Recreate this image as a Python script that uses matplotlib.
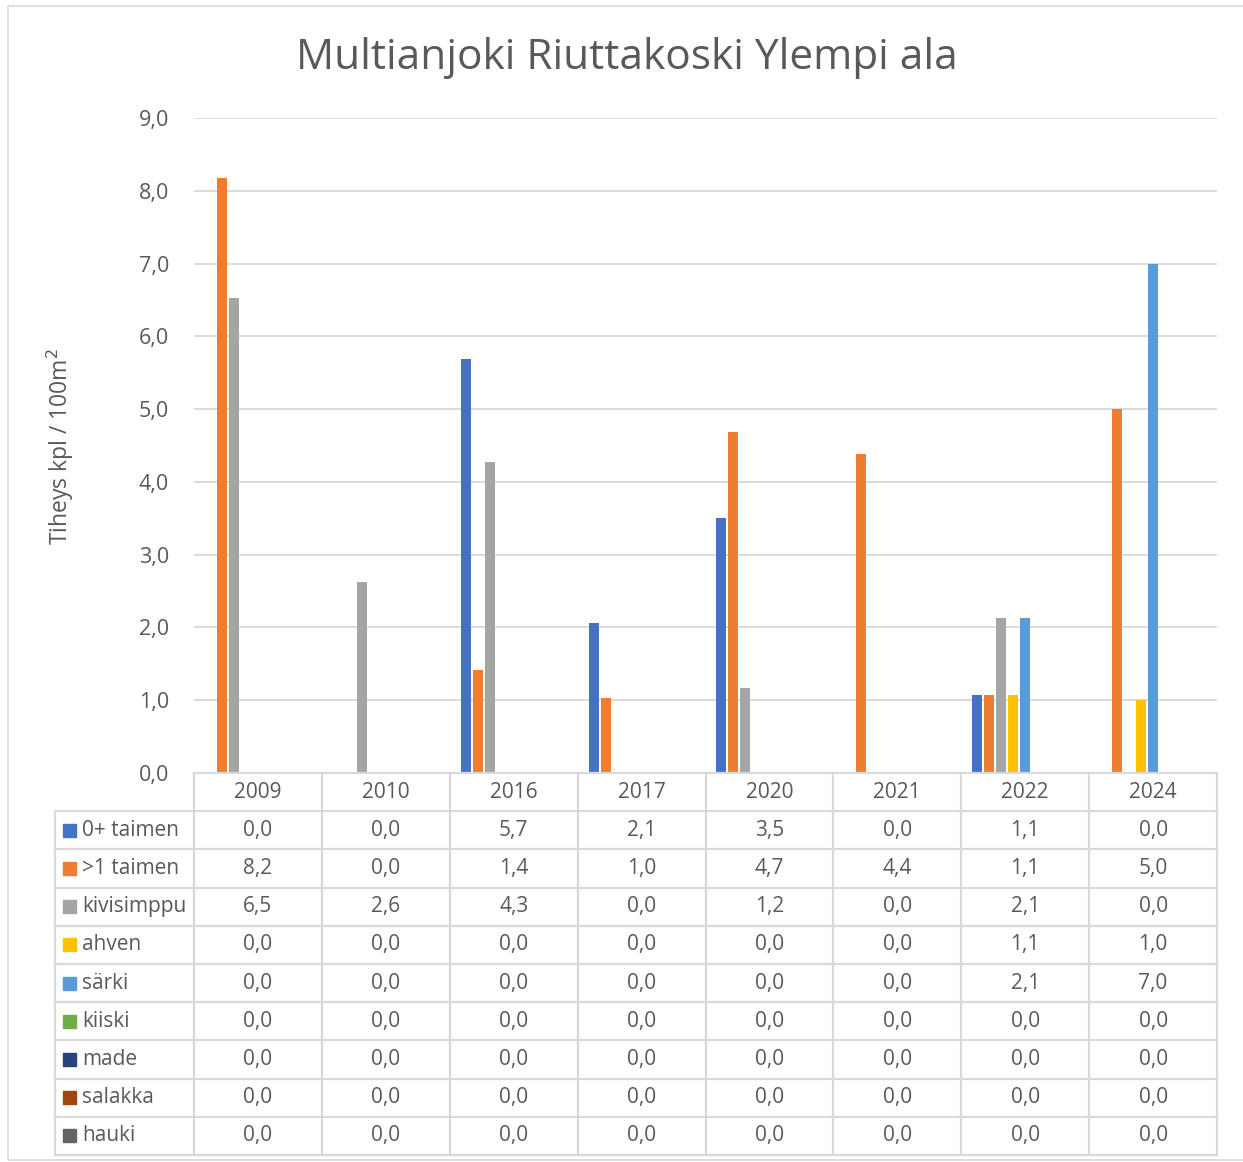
import matplotlib.pyplot as plt
import numpy as np
from matplotlib.patches import Rectangle

plt.rcParams['font.family'] = ['Open Sans', 'DejaVu Sans']

# Data
years = ['2009', '2010', '2016', '2017', '2020', '2021', '2022', '2024']
species = ['0+ taimen', '>1 taimen', 'kivisimppu', 'ahven', 'särki',
           'kiiski', 'made', 'salakka', 'hauki']
taimen0 = [0.0, 0.0, 5.69, 2.06, 3.50, 0.0, 1.07, 0.0]
taimen1 = [8.17, 0.0, 1.42, 1.03, 4.68, 4.39, 1.07, 5.0]
kivisimppu = [6.53, 2.63, 4.27, 0.0, 1.17, 0.0, 2.13, 0.0]
ahven = [0.0, 0.0, 0.0, 0.0, 0.0, 0.0, 1.07, 1.0]
sarki = [0.0, 0.0, 0.0, 0.0, 0.0, 0.0, 2.13, 7.0]
kiiski = [0.0] * 8
made = [0.0] * 8
salakka = [0.0] * 8
hauki = [0.0] * 8
series = [taimen0, taimen1, kivisimppu, ahven, sarki, kiiski, made, salakka, hauki]
colors = ['#4472C4', '#ED7D31', '#A5A5A5', '#FFC000', '#5B9BD5',
          '#70AD47', '#264478', '#9E480E', '#636363']

W, H = 1243, 1162
txt = '#595959'
grid = '#D9D9D9'

fig = plt.figure(figsize=(W / 100, H / 100), dpi=100)

# outer chart border
fig.patches.append(Rectangle((8 / W, 1 - 1160 / H), (W - 6) / W, 1154 / H,
                             transform=fig.transFigure, fill=False,
                             edgecolor=grid, lw=1.2))

# plot area
x0, x1, y0, y1 = 194, 1217, 118, 773
ax = fig.add_axes([x0 / W, 1 - y1 / H, (x1 - x0) / W, (y1 - y0) / H])
x = np.arange(len(years))
step = 12 / ((x1 - x0) / len(years))
width = 10 / ((x1 - x0) / len(years))
for i, vals in enumerate(series):
    ax.bar(x + (i - 4) * step, vals, width=width, color=colors[i], zorder=3)
ax.set_xlim(-0.5, len(years) - 0.5)
ax.set_ylim(0, 9)
ax.set_yticks(np.arange(0, 10))
ax.set_yticklabels([f'{v:.1f}'.replace('.', ',') for v in np.arange(0, 10)],
                   fontsize=15.5, color=txt)
ax.set_xticks([])
ax.tick_params(axis='y', length=0, pad=18)
ax.grid(axis='y', color=grid, lw=1.3, zorder=0)
for s in ax.spines.values():
    s.set_visible(False)

fig.text(627 / W, 1 - 58 / H, 'Multianjoki Riuttakoski Ylempi ala',
         ha='center', va='center', fontsize=30.5, color=txt)
fig.text(60 / W, 1 - 447 / H, 'Tiheys kpl / 100m$^2$', rotation=90,
         ha='center', va='center', fontsize=16.5, color=txt)

# data table
tl, tb = 55, 1155
rowh = (tb - y1) / (len(species) + 1)
colw = (x1 - x0) / len(years)
tab = fig.add_axes([tl / W, 1 - tb / H, (x1 - tl) / W, (tb - y1) / H])
tab.set_xlim(tl, x1)
tab.set_ylim(tb, y1)
tab.axis('off')
lw = 1.6
# horizontal lines
tab.plot([x0, x1], [y1, y1], color=grid, lw=lw, clip_on=False)
for r in range(1, len(species) + 2):
    yy = y1 + r * rowh
    tab.plot([tl, x1], [yy, yy], color=grid, lw=lw, clip_on=False)
# vertical lines
tab.plot([tl, tl], [y1 + rowh, tb], color=grid, lw=lw, clip_on=False)
for c in range(len(years) + 1):
    xx = x0 + c * colw
    tab.plot([xx, xx], [y1, tb], color=grid, lw=lw, clip_on=False)
# header
for c, yr in enumerate(years):
    tab.text(x0 + (c + 0.5) * colw, y1 + 0.5 * rowh, yr, ha='center',
             va='center', fontsize=15, color=txt)
# rows
for r, (name, vals) in enumerate(zip(species, series)):
    yc = y1 + (r + 1.5) * rowh
    tab.add_patch(Rectangle((63, yc - 6.5), 13, 13, color=colors[r]))
    tab.text(82, yc, name, ha='left', va='center', fontsize=15, color=txt)
    for c, v in enumerate(vals):
        tab.text(x0 + (c + 0.5) * colw, yc, f'{v:.1f}'.replace('.', ','),
                 ha='center', va='center', fontsize=15, color=txt)

fig.savefig('out.png', dpi=100)
